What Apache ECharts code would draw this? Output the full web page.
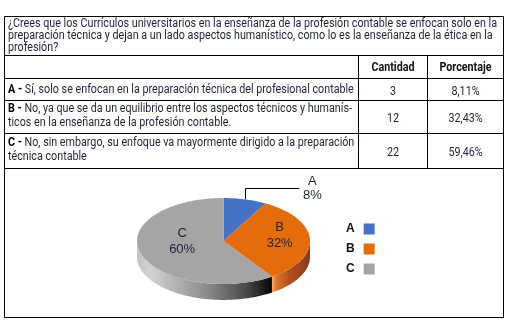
<!DOCTYPE html>
<html><head><meta charset="utf-8">
<script src="https://cdn.jsdelivr.net/npm/echarts@6/dist/echarts.min.js"></script>
<style>html,body{margin:0;padding:0;background:#fff}#c{width:508px;height:324px}</style>
</head><body><div id="c"></div>
<script>
// ---- data ----
const questionLines = [
  '¿Crees que los Currículos universitarios en la enseñanza de la profesión contable se enfocan solo en la',
  'preparación técnica y dejan a un lado aspectos humanístico, como lo es la enseñanza de la ética en la',
  'profesión?'
];
const headers = ['Cantidad', 'Porcentaje'];
const categories = ['A', 'B', 'C'];
const answers = [
  ['Sí, solo se enfocan en la preparación técnica del profesional contable'],
  ['No, ya que se da un equilibrio entre los aspectos técnicos y humanís-', 'ticos en la enseñanza de la profesión contable.'],
  ['No, sin embargo, su enfoque va mayormente dirigido a la preparación', 'técnica contable']
];
const counts = [3, 12, 22];
const percentLabels = ['8,11%', '32,43%', '59,46%'];

// ---- style ----
const colors = ['#4472C4', '#E46C0A', '#A5A5A5'];
const sideStops = [
  [[0, '#2f5597'], [1, '#1f3864']],
  [[0, '#f6b060'], [0.12, '#dd7428'], [0.45, '#b3501e'], [1, '#8a3a1c']],
  [[0, '#c4c4c4'], [0.1, '#d2d2d2'], [0.5, '#8e8e8e'], [0.82, '#474747'], [1, '#050505']]
];
const labelCfg = [{ outside: true }, { r: 0.65, dy: -4 }, { r: 0.5, dy: -6 }];
const FONT = "Roboto, sans-serif";
const TXT = '#1e2236';
const DEPTH = 0.37;

const X = [4.5, 358.5, 427.5, 503.5];
const Y = [16.5, 55.5, 78.5, 100.5, 133.5, 168.5, 317.5];

// horizontal condensing factor so the first question line spans the cell
const mctx = document.createElement('canvas').getContext('2d');
mctx.font = '12px ' + FONT;
const SX = 489 / mctx.measureText(questionLines[0]).width;

// ---- derived ----
const total = counts.reduce((a, b) => a + b, 0);
let acc = 0;
const slices = counts.map(v => { const s = acc / total; acc += v; return [s, acc / total]; });
function roundPercents(vals) {
  const raw = vals.map(v => v / total * 100);
  const fl = raw.map(Math.floor);
  let rem = 100 - fl.reduce((a, b) => a + b, 0);
  const order = raw.map((r, i) => [r - Math.floor(r), i]).sort((a, b) => b[0] - a[0]);
  for (let k = 0; k < rem; k++) fl[order[k][1]] += 1;
  return fl;
}
const piePct = roundPercents(counts);

// ---- table graphics ----
const g = [];
const line = (x1, y1, x2, y2) => g.push({ type: 'line', shape: { x1, y1, x2, y2 }, style: { stroke: '#000', lineWidth: 1 }, silent: true });
g.push({ type: 'rect', shape: { x: X[0], y: Y[0], width: X[3] - X[0], height: Y[6] - Y[0] }, style: { fill: 'none', stroke: '#000', lineWidth: 1 } });
for (let i = 1; i <= 5; i++) line(X[0], Y[i], X[3], Y[i]);
line(X[1], Y[1], X[1], Y[5]);
line(X[2], Y[1], X[2], Y[5]);
g.push({ type: 'text', x: 8, y: Y[0] + 1.5, scaleX: SX, style: { text: questionLines.join('\n'), font: '12px ' + FONT, lineHeight: 12, fill: TXT } });
headers.forEach((h, i) => g.push({ type: 'text', x: (X[i + 1] + X[i + 2]) / 2, y: (Y[1] + Y[2]) / 2 + 1, scaleX: SX, style: { text: h, font: 'bold 12px ' + FONT, fill: '#111', align: 'center', verticalAlign: 'middle' } }));
categories.forEach((c, i) => {
  const yc = (Y[i + 2] + Y[i + 3]) / 2;
  const lines = answers[i].map((t, k) => (k === 0 ? '{b|' + c + ' -} ' : '') + t).join('\n');
  g.push({ type: 'text', x: 8, y: yc + (answers[i].length > 1 ? -1 : 0), scaleX: SX, style: {
    text: lines, font: '12px ' + FONT, fill: TXT, lineHeight: 14, verticalAlign: 'middle',
    rich: { b: { font: 'bold 12px ' + FONT, fill: '#000' } } } });
  g.push({ type: 'text', x: (X[1] + X[2]) / 2, y: yc + 2, scaleX: SX, style: { text: String(counts[i]), font: '12px ' + FONT, fill: TXT, align: 'center', verticalAlign: 'middle' } });
  g.push({ type: 'text', x: (X[2] + X[3]) / 2, y: yc + 2, scaleX: SX, style: { text: percentLabels[i], font: '12px ' + FONT, fill: TXT, align: 'center', verticalAlign: 'middle' } });
});

// ---- pie (elliptical, via custom series on hidden value axes) ----
function makeRender(i) {
  return function (params, api) {
    const a0 = api.value(0) * 2 * Math.PI, a1 = api.value(1) * 2 * Math.PI;
    const pt = (a, r, dy) => api.coord([r * Math.sin(a), r * Math.cos(a) - (dy || 0)]);
    const children = [];
    const b0 = Math.max(a0, Math.PI / 2), b1 = Math.min(a1, 1.5 * Math.PI);
    if (b1 > b0) {
      const n = Math.max(6, Math.ceil((b1 - b0) / (Math.PI / 120)));
      const side = [];
      for (let k = 0; k <= n; k++) side.push(pt(b0 + (b1 - b0) * k / n, 1));
      for (let k = n; k >= 0; k--) side.push(pt(b0 + (b1 - b0) * k / n, 1, DEPTH));
      children.push({ type: 'polygon', shape: { points: side }, style: { fill: new echarts.graphic.LinearGradient(0, 0, 1, 0, sideStops[i].map(s => ({ offset: s[0], color: s[1] }))) } });
    }
    const n = Math.max(6, Math.ceil((a1 - a0) / (Math.PI / 120)));
    const top = [api.coord([0, 0])];
    for (let k = 0; k <= n; k++) top.push(pt(a0 + (a1 - a0) * k / n, 1));
    children.push({ type: 'polygon', shape: { points: top }, style: { fill: colors[i] } });
    const am = (a0 + a1) / 2;
    const lab = categories[i] + '\n' + piePct[i] + '%';
    const lc = labelCfg[i];
    if (lc.outside) {
      const p = pt(am, 1);
      const yk = Math.round(p[1] - 11) + 0.5, xe = p[0] + 54;
      const xl = Math.round(p[0]) + 0.5;
      children.push({ type: 'polyline', shape: { points: [[xl, p[1]], [xl, yk], [xe, yk]] }, style: { stroke: '#000', lineWidth: 1, fill: 'none' } });
      children.push({ type: 'text', x: xe + 13, y: yk, style: { text: lab, font: '13px Liberation Sans, Arial, sans-serif', lineHeight: 14, fill: TXT, align: 'center', verticalAlign: 'middle' } });
    } else {
      const p = pt(am, lc.r);
      children.push({ type: 'text', x: p[0], y: p[1] + lc.dy, style: { text: lab, font: '13px Liberation Sans, Arial, sans-serif', lineHeight: 16, fill: TXT, align: 'center', verticalAlign: 'middle' } });
    }
    return { type: 'group', children };
  };
}

const series = categories.map((c, i) => ({
  name: c, type: 'custom', coordinateSystem: 'cartesian2d',
  itemStyle: { color: colors[i] },
  data: [{ name: c, value: slices[i] }],
  encode: { x: [], y: [] },
  renderItem: makeRender(i), silent: true
}));

const chart = echarts.init(document.getElementById('c'), null, { renderer: 'canvas' });
chart.setOption({
  backgroundColor: '#fff',
  animation: false,
  grid: { left: 137, top: 198, width: 173, height: 86 },
  xAxis: { type: 'value', min: -1, max: 1, show: false },
  yAxis: { type: 'value', min: -1, max: 1, show: false },
  legend: {
    orient: 'vertical', left: 341, top: 218, align: 'right', icon: 'rect',
    itemWidth: 11, itemHeight: 11, itemGap: 8, selectedMode: false,
    textStyle: { fontFamily: 'Liberation Sans, Arial, sans-serif', fontWeight: 'bold', fontSize: 12, color: '#111', padding: [0, 4, 0, 0] },
    data: categories
  },
  series,
  graphic: g
});
</script></body></html>
